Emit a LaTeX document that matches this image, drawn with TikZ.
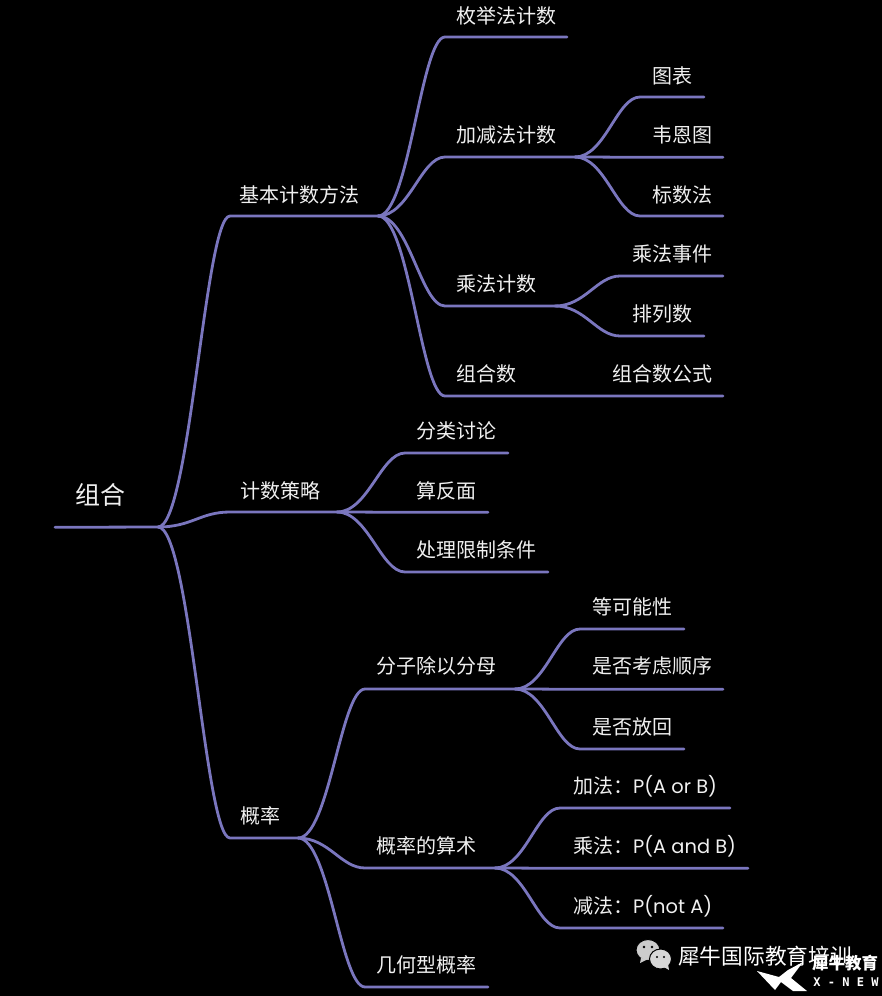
\documentclass[tikz,border=0pt]{standalone}
\usepackage{fontspec}
\setmainfont{Noto Sans CJK SC}
\newfontfamily\latinf{Poppins}
\newfontfamily\monof{DejaVu Sans Mono}
\definecolor{bgc}{HTML}{000000}
\definecolor{linec}{HTML}{7A76BE}
\definecolor{textc}{HTML}{F0F0F0}
\newcommand{\brlink}[4]{\draw[branch] (#1) .. controls +(#3,0) and +(-#4,0) .. (#2s) -- (#2e);}
\tikzset{
  branch/.style={draw=linec,line width=2.8pt,line cap=round,line join=round},
  lab/.style={text=textc,font=\fontsize{20}{22}\selectfont,inner sep=0pt,anchor=center},
  rootlab/.style={text=textc,font=\fontsize{25}{28}\selectfont,inner sep=0pt,anchor=center},
  wm/.style={text=white,inner sep=0pt,anchor=center},
  wechat/.style={fill=#1,draw=black,line width=1pt}
}
\begin{document}
\begin{tikzpicture}[x=1pt,y=-1pt]
\useasboundingbox (0,0) rectangle (882,996);
\fill[bgc] (0,0) rectangle (882,996);
% junctions and ends
\coordinate (rootA) at (55,527.3); \coordinate (J0) at (158,527);
\coordinate (Js) at (378,216); \coordinate (Jc) at (337,512); \coordinate (Jp) at (298,838);
\coordinate (Jjj) at (575,157); \coordinate (Jcf) at (555,306);
\coordinate (Jfz) at (515,689); \coordinate (Jss) at (495,868);
\coordinate (as) at (230,216); \coordinate (bs) at (230,512); \coordinate (cs) at (230,838);
\coordinate (ae) at (378,216); \coordinate (be) at (337,512); \coordinate (ce) at (298,838);
\coordinate (a1s) at (445,37); \coordinate (a1e) at (567,37);
\coordinate (a2s) at (445,157); \coordinate (a2e) at (575,157);
\coordinate (a3s) at (445,306); \coordinate (a3e) at (555,306);
\coordinate (a4s) at (445,396); \coordinate (a4e) at (723,396);
\coordinate (d1s) at (640,97); \coordinate (d1e) at (704,97);
\coordinate (d2s) at (640,157.3); \coordinate (d2e) at (723,157.3);
\coordinate (d3s) at (640,216); \coordinate (d3e) at (723,216);
\coordinate (f1s) at (620,276); \coordinate (f1e) at (723,276);
\coordinate (f2s) at (620,336); \coordinate (f2e) at (704,336);
\coordinate (b1s) at (405,453); \coordinate (b1e) at (508,453);
\coordinate (b2s) at (405,512.3); \coordinate (b2e) at (488,512.3);
\coordinate (b3s) at (405,572); \coordinate (b3e) at (548,572);
\coordinate (c1s) at (365,689); \coordinate (c1e) at (515,689);
\coordinate (c2s) at (365,868); \coordinate (c2e) at (495,868);
\coordinate (c3s) at (365,987); \coordinate (c3e) at (488,987);
\coordinate (g1s) at (580,629); \coordinate (g1e) at (684,629);
\coordinate (g2s) at (580,689.3); \coordinate (g2e) at (723,689.3);
\coordinate (g3s) at (580,749); \coordinate (g3e) at (684,749);
\coordinate (h1s) at (560,808); \coordinate (h1e) at (730,808);
\coordinate (h2s) at (560,868.3); \coordinate (h2e) at (748,868.3);
\coordinate (h3s) at (560,928); \coordinate (h3e) at (723,928);
% connectors
\draw[branch] (rootA) -- (J0);
\brlink{J0}{a}{32}{25} \brlink{J0}{b}{34}{30} \brlink{J0}{c}{32}{25}
\brlink{Js}{a1}{31}{24} \brlink{Js}{a2}{31}{24} \brlink{Js}{a3}{31}{24} \brlink{Js}{a4}{31}{24}
\brlink{Jjj}{d1}{30}{23} \brlink{Jjj}{d2}{30}{23} \brlink{Jjj}{d3}{30}{23}
\brlink{Jcf}{f1}{30}{23} \brlink{Jcf}{f2}{30}{23}
\brlink{Jc}{b1}{31}{24} \brlink{Jc}{b2}{31}{24} \brlink{Jc}{b3}{31}{24}
\brlink{Jp}{c1}{31}{24} \brlink{Jp}{c2}{31}{24} \brlink{Jp}{c3}{31}{24}
\brlink{Jfz}{g1}{30}{23} \brlink{Jfz}{g2}{30}{23} \brlink{Jfz}{g3}{30}{23}
\brlink{Jss}{h1}{30}{23} \brlink{Jss}{h2}{30}{23} \brlink{Jss}{h3}{30}{23}
% labels
\node[rootlab] (root) at (100.5,495) {组合};
\node[lab] (na) at (299.5,195) {基本计数方法};
\node[lab] (nb) at (280,491) {计数策略};
\node[lab] (nc) at (260,816) {概率};
\node[lab] (na1) at (506.5,16) {枚举法计数};
\node[lab] (na2) at (506.5,135) {加减法计数};
\node[lab] (na3) at (496.5,284) {乘法计数};
\node[lab] (na4) at (486.5,374) {组合数};
\node[lab] (na5) at (662.5,374) {组合数公式};
\node[lab] (nd1) at (672.5,76) {图表};
\node[lab] (nd2) at (682.5,135) {韦恩图};
\node[lab] (nd3) at (682.5,195) {标数法};
\node[lab] (nf1) at (672.5,254) {乘法事件};
\node[lab] (nf2) at (662.5,314) {排列数};
\node[lab] (nb1) at (456.5,431) {分类讨论};
\node[lab] (nb2) at (446.5,491) {算反面};
\node[lab] (nb3) at (476.5,550) {处理限制条件};
\node[lab] (nc1) at (436.5,666) {分子除以分母};
\node[lab] (nc2) at (426.5,846) {概率的算术};
\node[lab] (nc3) at (426.5,965) {几何型概率};
\node[lab] (ng1) at (632.5,607) {等可能性};
\node[lab] (ng2) at (652.5,666) {是否考虑顺序};
\node[lab] (ng3) at (632.5,727) {是否放回};
\node[lab,anchor=west] (nh1) at (573,786) {加法：{\latinf\fontsize{19.4}{22}\selectfont P(A or B)}};
\node[lab,anchor=west] (nh2) at (573,846) {乘法：{\latinf\fontsize{19.4}{22}\selectfont P(A and B)}};
\node[lab,anchor=west] (nh3) at (573,906) {减法：{\latinf\fontsize{19.4}{22}\selectfont P(not A)}};
% watermark
\fill[wechat=white!80!black] (648,950) ellipse (12 and 10.5);
\fill[white!80!black] (641,958) -- (640,963) -- (648,959) -- cycle;
\fill[wechat=white!84!black] (660.5,959) ellipse (11 and 10);
\fill[white!84!black] (664,967) -- (669,970) -- (668,964) -- cycle;
\fill[black] (644,947) circle (1.4) (652,947) circle (1.4) (657,957) circle (1.2) (664,957) circle (1.2);
\node[wm,anchor=west,font=\fontsize{21.7}{24}\selectfont] (wmt) at (678,956) {犀牛国际教育培训};
\fill[white] (757,971) -- (779,977) -- (788,970) -- (803,962) -- (791,978) -- (807,991) -- (793,991) -- (781,982) -- (775,990) -- cycle;
\node[wm,font=\fontsize{16.5}{18}\selectfont\bfseries] (wmb) at (845,963) {犀牛教育};
\node[wm,font=\monof\bfseries\fontsize{12}{14}\selectfont] (wmx) at (846,982) {X - N E W};
\end{tikzpicture}
\end{document}
